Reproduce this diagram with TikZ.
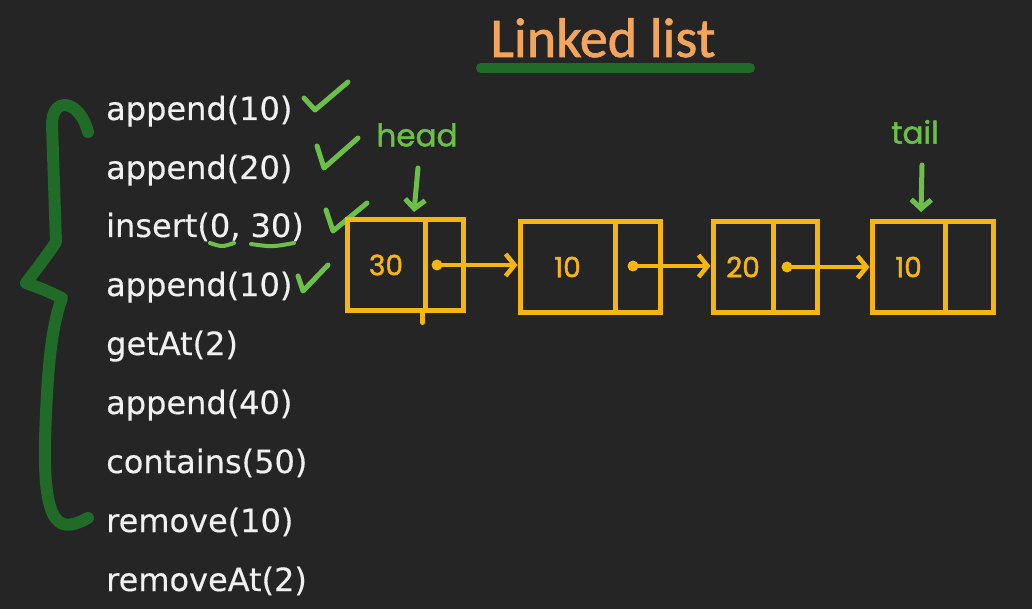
\documentclass[tikz,border=0pt]{standalone}
\usepackage{fontspec}
\setmainfont{DejaVu Sans}[FakeBold=0.4]
\newfontfamily\titlefont{Carlito}[FakeBold=1.2]
\newfontfamily\handfont{Poppins}[FakeBold=1.5]
\usetikzlibrary{arrows.meta}
\definecolor{bg}{HTML}{262526}
\definecolor{peach}{HTML}{F2A55E}
\definecolor{dgreen}{HTML}{1F6B27}
\definecolor{lime}{HTML}{6CC04A}
\definecolor{yel}{HTML}{F5B512}
\definecolor{txt}{HTML}{F0F0F0}
\begin{document}
\begin{tikzpicture}[x=1pt,y=-1pt,
  item/.style={anchor=base west, text=txt, inner sep=0pt, font=\fontsize{32}{32}\selectfont},
  cell/.style={draw=yel, line width=5pt, minimum height=90pt, inner sep=0pt, text=yel, font=\handfont\fontsize{28}{28}\selectfont},
  ptr/.style={draw=yel, line width=4.5pt, line cap=round, -{Straight Barb[length=9pt,width=22pt,line width=4.5pt]}},
  chk/.style={draw=lime, line width=5pt, line cap=round, line join=round},
  garrow/.style={draw=lime, line width=5pt, line cap=round, -{Straight Barb[length=9pt,width=20pt,line width=5pt]}},
  lbl/.style={text=lime, inner sep=0pt, font=\handfont\fontsize{31}{31}\selectfont}]
\fill[bg] (0,0) rectangle (1032,609);
\useasboundingbox (0,0) rectangle (1032,609);
% title
\node[anchor=base, text=peach, inner sep=0pt, font=\titlefont\fontsize{56}{56}\selectfont] (title) at (603,57) {Linked list};
\draw[dgreen, line width=10pt, line cap=round] (481,68) -- (750,68);
% brace
\draw[dgreen, line width=12pt, line cap=round, line join=round]
  (88,132) .. controls (80,100) and (52,95) .. (52,125)
  -- (56,242) .. controls (45,258) .. (26,283) .. controls (45,290) .. (62,298)
  .. controls (50,330) and (47,380) .. (45,440)
  .. controls (43,532) and (62,532) .. (88,518);
% items
\node[item] (i1) at (106,120) {append(10)};
\node[item] (i2) at (106,179) {append(20)};
\node[item] (i3) at (106,237) {insert(0, 30)};
\node[item] (i4) at (106,296) {append(10)};
\node[item] (i5) at (106,355) {getAt(2)};
\node[item] (i6) at (106,414) {append(40)};
\node[item] (i7) at (106,473) {contains(50)};
\node[item] (i8) at (106,532) {remove(10)};
\node[item] (i9) at (106,591) {removeAt(2)};
% checks and underlines
\draw[chk] (304,98) -- (315,110) -- (348,82);
\draw[chk] (317,146) -- (324,168) -- (358,138);
\draw[chk] (326,210) -- (333,231) -- (367,203);
\draw[chk] (298,276) -- (303,291) -- (328,265);
\draw[chk, line width=4pt] (210,243) .. controls (222,247) .. (234,243);
\draw[chk, line width=4pt] (251,244) .. controls (272,247) .. (294,243);
% list cells
\node[cell, minimum width=78pt] (b1v) at (386,265) {30};
\node[cell, minimum width=38pt] (b1p) at (444,265) {};
\draw[yel, line width=5pt, line cap=round] (b1p.south west) -- ++(0,10);
\node[cell, minimum width=95pt] (b2v) at (567.5,267) {10};
\node[cell, minimum width=45pt] (b2p) at (637.5,267) {};
\node[cell, minimum width=60pt] (b3v) at (743,267) {20};
\node[cell, minimum width=44pt] (b3p) at (795,267) {};
\node[cell, minimum width=73pt] (b4v) at (908.5,267) {10};
\node[cell, minimum width=48pt] (b4p) at (969,267) {};
% pointers
\coordinate (d1) at (437,265);
\coordinate (d2) at (633,266);
\coordinate (d3) at (787,267);
\fill[yel] (d1) circle (5.5pt) (d2) circle (5.5pt) (d3) circle (5.5pt);
\draw[ptr] (d1) -- (b2v.west |- d1);
\draw[ptr] (d2) -- (b3v.west |- d2);
\draw[ptr] (d3) -- (b4v.west |- d3);
% head / tail
\node[lbl] (head) at (417,135) {head};
\coordinate (headfrom) at (418,168);
\coordinate (headtip) at (414,212);
\draw[garrow] (headfrom) -- (headtip);
\node[lbl] (tail) at (915,132) {tail};
\coordinate (tailfrom) at (922,165);
\coordinate (tailtip) at (921,212);
\draw[garrow] (tailfrom) -- (tailtip);
\end{tikzpicture}
\end{document}
